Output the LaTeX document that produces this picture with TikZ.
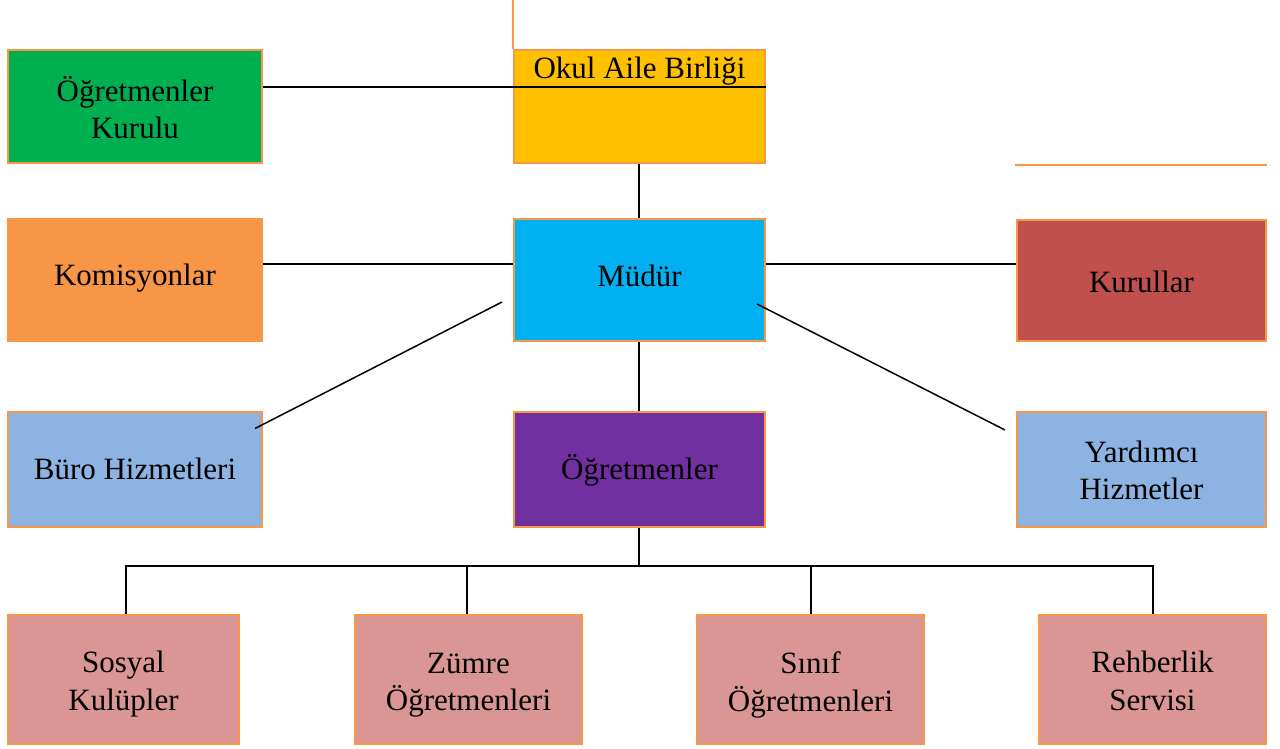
\documentclass[tikz,border=0pt]{standalone}
\usepackage{fontspec}
\setmainfont{Liberation Serif}
\usetikzlibrary{calc}
\definecolor{cgreen}{HTML}{00B050}
\definecolor{cyellow}{HTML}{FFC000}
\definecolor{corange}{HTML}{F79646}
\definecolor{cblue}{HTML}{00B0F0}
\definecolor{cred}{HTML}{C0504D}
\definecolor{clblue}{HTML}{8DB3E2}
\definecolor{cpurple}{HTML}{7030A0}
\definecolor{cpink}{HTML}{D99694}
\tikzset{
  box/.style={draw=corange, line width=2pt, inner sep=0pt},
  wl/.style={box, minimum width=254pt},
  wm/.style={box, minimum width=251pt},
  wr/.style={box, minimum width=249pt},
  wb/.style={box, minimum width=227pt, minimum height=129pt},
  txt/.style={inner sep=0pt, align=center, font=\fontsize{31}{37.5}\selectfont},
  conn/.style={draw=black, line width=1.5pt},
  deco/.style={draw=corange, line width=2pt},
}
\begin{document}
\begin{tikzpicture}[x=1pt,y=-1pt]
\useasboundingbox (0,0) rectangle (1280,749);
% top row
\node[wl, minimum height=113pt, fill=cgreen] (kurulu) at (135,106.5) {};
\node[wm, minimum height=113pt, fill=cyellow] (okul) at (639.5,106.5) {};
% middle row
\node[wl, minimum height=122pt, fill=corange] (komis) at (135,280) {};
\node[wm, minimum height=122pt, fill=cblue] (mudur) at (639.5,280) {};
\node[wr, minimum height=121pt, fill=cred] (kurullar) at (1141.5,280.5) {};
% lower row
\node[wl, minimum height=115pt, fill=clblue] (buro) at (135,469) {};
\node[wm, minimum height=115pt, fill=cpurple] (ogr) at (639.5,469) {};
\node[wr, minimum height=115pt, fill=clblue] (yard) at (1141.5,469.5) {};
% bottom row
\node[wb, minimum width=231pt, fill=cpink] (sosyal) at (123.5,679.5) {};
\node[wb, fill=cpink] (zumre) at (468.5,679.5) {};
\node[wb, fill=cpink] (sinif) at (810.5,679.5) {};
\node[wb, fill=cpink] (rehber) at (1152.5,679.5) {};
% texts
\node[txt] (kurulut) at (135,107.5) {Öğretmenler\\Kurulu};
\node[txt, anchor=north] (okult) at (639.5,57) {Okul Aile Birliği};
\node[txt] (komist) at (135,278) {Komisyonlar};
\node[txt] (mudurt) at (639.5,276) {Müdür};
\node[txt] (kurullart) at (1141.5,281.5) {Kurullar};
\node[txt] (burot) at (135,468.5) {Büro Hizmetleri};
\node[txt] (ogrt) at (639.5,470.5) {Öğretmenler};
\node[txt] (yardt) at (1141.5,470.5) {Yardımcı\\Hizmetler};
\node[txt] (sosyalt) at (123.5,684) {Sosyal\\Kulüpler};
\node[txt] (zumret) at (468.5,685) {Zümre\\Öğretmenleri};
\node[txt] (siniff) at (810.5,685) {Sınıf\\Öğretmenleri};
\node[txt] (rehbert) at (1152.5,681) {Rehberlik\\Servisi};
% decorative orange lines
\coordinate (topend) at (okul.north west |- 0,0);
\draw[deco] (okul.north west) -- (topend);
\coordinate (rl1) at (1015,165);
\coordinate (rl2) at (1267,165);
\draw[deco] (rl1) -- (rl2);
% connectors
\coordinate (bus) at (639,566);
\draw[conn] ($(kurulu.north east)+(0,38)$) -- ($(okul.north east)+(0,38)$);
\draw[conn] (okul.south -| bus) -- (mudur.north -| bus);
\draw[conn] (komis.east |- 0,264) -- (mudur.west |- 0,264);
\draw[conn] (mudur.east |- 0,264) -- (kurullar.west |- 0,264);
\draw[conn] ($(buro.north east)+(-8,18)$) -- ($(mudur.west)+(-11,22)$);
\draw[conn] ($(mudur.east)+(-9,24)$) -- ($(yard.north west)+(-11,19)$);
\draw[conn] (mudur.south -| bus) -- (ogr.north -| bus);
\coordinate (d1) at (126,566);
\coordinate (d2) at (467,566);
\coordinate (d3) at (811,566);
\coordinate (d4) at (1153,566);
\draw[conn] (ogr.south -| bus) -- (bus);
\draw[conn] (sosyal.north -| d1) -- (d1) -- (d4) -- (rehber.north -| d4);
\draw[conn] (zumre.north -| d2) -- (d2);
\draw[conn] (sinif.north -| d3) -- (d3);
\end{tikzpicture}
\end{document}
